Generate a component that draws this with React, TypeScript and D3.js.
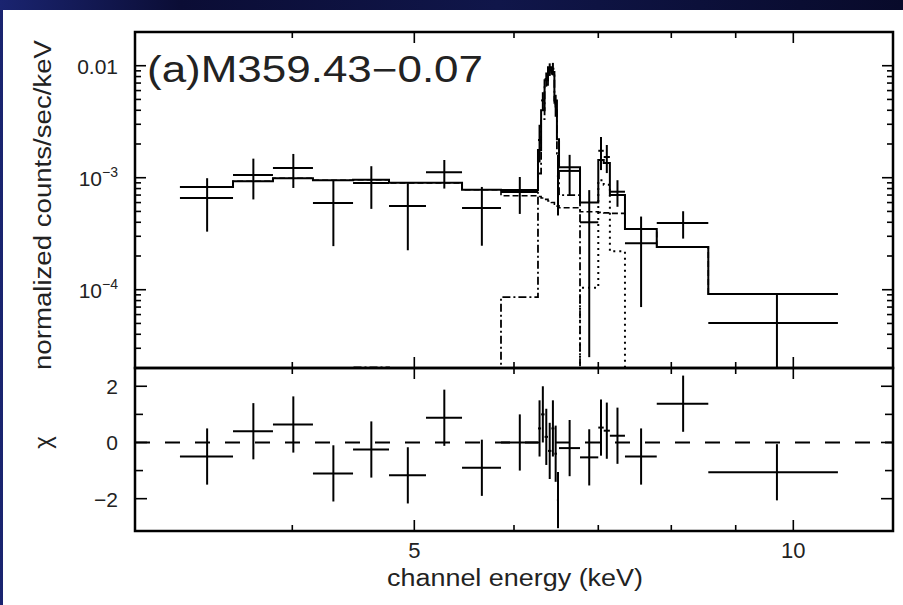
import React from 'react';
import * as d3 from 'd3';

const W = 903;
const H = 605;

// Energy bins (keV)
const binLo = [3.257, 3.589, 3.861, 4.154, 4.470, 4.774, 5.108, 5.456, 5.859, 6.269, 6.305, 6.345, 6.385, 6.425, 6.460, 6.490, 6.515, 6.770, 7.000, 7.070, 7.150, 7.350, 7.790, 8.560];
const binHi = [3.589, 3.861, 4.154, 4.470, 4.774, 5.108, 5.456, 5.859, 6.269, 6.305, 6.345, 6.385, 6.425, 6.460, 6.490, 6.515, 6.770, 7.000, 7.070, 7.150, 7.350, 7.790, 8.560, 10.850];
// Data (normalized counts/sec/keV) and 1-sigma errors
const dataVal = [6.6e-4, 1.06e-3, 1.22e-3, 5.95e-4, 8.97e-4, 5.6e-4, 1.12e-3, 5.37e-4, 7.45e-4, 2.17e-3, 4.9e-3, 7.6e-3, 9.3e-3, 9.4e-3, 4.5e-3, 1.03e-3, 1.15e-3, 4.0e-4, 1.74e-3, 1.53e-3, 7.5e-4, 2.6e-4, 3.94e-4, 5.05e-5];
const dataErr = [3.3e-4, 4.2e-4, 4.1e-4, 3.5e-4, 3.7e-4, 3.35e-4, 3.2e-4, 2.9e-4, 2.7e-4, 8.0e-4, 9.0e-4, 1.1e-3, 1.2e-3, 1.2e-3, 1.0e-3, 5.7e-4, 4.5e-4, 3.75e-4, 5.7e-4, 4.3e-4, 2.0e-4, 1.9e-4, 1.08e-4, 4.1e-5];
// Total model
const modelVal = [8.26e-4, 9.3e-4, 9.9e-4, 9.5e-4, 9.6e-4, 9.0e-4, 9.0e-4, 7.8e-4, 7.75e-4, 1.77e-3, 4.0e-3, 7.4e-3, 9.7e-3, 8.8e-3, 4.9e-3, 2.2e-3, 1.24e-3, 6.0e-4, 1.44e-3, 1.35e-3, 7.0e-4, 3.48e-4, 2.41e-4, 9.16e-5];
// Model components
const contVal = [8.26e-4, 9.3e-4, 9.9e-4, 9.5e-4, 9.6e-4, 9.0e-4, 9.0e-4, 7.8e-4, 6.9e-4, 6.8e-4, 6.6e-4, 6.4e-4, 6.2e-4, 6.0e-4, 5.8e-4, 5.6e-4, 5.4e-4, 4.96e-4, 4.9e-4, 4.85e-4, 4.8e-4, 3.48e-4, 2.41e-4, 9.16e-5];
const line64Val = [0, 0, 0, 0, 2.03e-5, 0, 0, 0, 8.6e-5, 1.09e-3, 3.34e-3, 6.76e-3, 9.08e-3, 8.2e-3, 4.32e-3, 1.64e-3, 7.0e-4, 0, 0, 0, 0, 0, 0, 0];
const line706Val = [0, 0, 0, 0, 0, 0, 0, 0, 0, 0, 0, 0, 0, 0, 0, 0, 0, 1.04e-4, 9.5e-4, 8.65e-4, 2.2e-4, 0, 0, 0];
// Residuals (chi)
const chiVal = [-0.5, 0.4, 0.64, -1.1, -0.25, -1.17, 0.88, -0.9, 0.0, 0.5, 1.0, 0.2, -0.3, 0.5, -0.4, -2.05, -0.2, -0.53, 0.53, 0.42, 0.24, -0.5, 1.38, -1.06];

// Ticks and labels
const xMajorTicks = [5, 10];
const xMinorTicks = [4, 6, 7, 8, 9];
const xTickLabels = ['5', '10'];
const yUpperLabelValues = [1e-2, 1e-3, 1e-4];
const yUpperLabelBase = ['0.01', '10', '10'];
const yUpperLabelExp = ['', '\u22123', '\u22124'];
const chiMajorTicks = [-2, 0, 2];
const chiMinorTicks = [-1, 1];
const chiTickLabels = ['\u22122', '0', '2'];

const title = '(a)M359.43\u22120.07';
const xTitle = 'channel energy (keV)';
const yTitle = 'normalized counts/sec/keV';
const chiTitle = '\u03c7';

const L = 135, R = 893, T = 32, M = 368, B = 531;
const FONT = "'Liberation Sans', Arial, Helvetica, sans-serif";
const TXT = '#222';

export default function App() {
  const x = d3.scaleLog().domain([3, 12]).range([L, R]);
  const yU = d3.scaleLog().domain([2e-5, 2e-2]).range([M, T]);
  const yL = d3.scaleLinear().domain([-3.15, 2.65]).range([B, M]);
  const floor = 1e-8;
  const yv = (v: number) => yU(Math.max(v, floor));

  const line = d3.line<[number, number]>();
  const stepPath = (vals: number[]) => {
    const pts: [number, number][] = [];
    vals.forEach((v, i) => {
      pts.push([x(binLo[i]), yv(v)]);
      pts.push([x(binHi[i]), yv(v)]);
    });
    return line(pts) || '';
  };

  const upperTicks: { y: number; len: number }[] = [];
  for (let d = -5; d <= -2; d++) {
    for (let m = 1; m <= 9; m++) {
      const v = m * Math.pow(10, d);
      if (v >= 2e-5 * 0.999 && v <= 2e-2 * 1.001) {
        upperTicks.push({ y: yU(v), len: m === 1 ? 11 : 6 });
      }
    }
  }
  const xTicks = [
    ...xMajorTicks.map((v) => ({ x: x(v), len: 11 })),
    ...xMinorTicks.map((v) => ({ x: x(v), len: 6 })),
  ];
  const chiTicks = [
    ...chiMajorTicks.map((v) => ({ y: yL(v), len: 12 })),
    ...chiMinorTicks.map((v) => ({ y: yL(v), len: 8 })),
  ];

  const sw = 2;

  return (
    <svg width={W} height={H} viewBox={`0 0 ${W} ${H}`} style={{ position: 'absolute', left: 0, top: 0, display: 'block' }}>
      <defs>
        <linearGradient id="bg" x1="0" y1="0" x2="1" y2="0">
          <stop offset="0" stopColor="#1a2470" />
          <stop offset="0.2" stopColor="#0b0d35" />
          <stop offset="0.55" stopColor="#10164a" />
          <stop offset="1" stopColor="#080a2a" />
        </linearGradient>
        <clipPath id="clipU"><rect x={L} y={T} width={R - L} height={M - T} /></clipPath>
        <clipPath id="clipL"><rect x={L} y={M} width={R - L} height={B - M} /></clipPath>
      </defs>
      <rect x={0} y={0} width={W} height={H} fill="url(#bg)" />
      <rect x={3} y={10} width={W - 3} height={H - 10} fill="#ffffff" />

      {/* Upper panel content */}
      <g clipPath="url(#clipU)" fill="none" stroke="#000">
        <path d={stepPath(contVal)} strokeWidth={1.6} strokeDasharray="6,3" />
        <path d={stepPath(line64Val)} strokeWidth={1.8} strokeDasharray="8,3,2,3" />
        <path d={stepPath(line706Val)} strokeWidth={2} strokeDasharray="2,4" />
        <path d={stepPath(modelVal)} strokeWidth={sw} />
        {dataVal.map((v, i) => {
          const c = x((binLo[i] + binHi[i]) / 2);
          return (
            <g key={i}>
              <line x1={x(binLo[i])} x2={x(binHi[i])} y1={yv(v)} y2={yv(v)} strokeWidth={sw} />
              <line x1={c} x2={c} y1={yv(v + dataErr[i])} y2={yv(v - dataErr[i])} strokeWidth={sw} />
            </g>
          );
        })}
      </g>

      {/* Lower panel content */}
      <g clipPath="url(#clipL)" fill="none" stroke="#000">
        <line x1={L} x2={R} y1={yL(0)} y2={yL(0)} strokeWidth={sw} strokeDasharray="15,15" />
        {chiVal.map((v, i) => {
          const c = x((binLo[i] + binHi[i]) / 2);
          return (
            <g key={i}>
              <line x1={x(binLo[i])} x2={x(binHi[i])} y1={yL(v)} y2={yL(v)} strokeWidth={sw} />
              <line x1={c} x2={c} y1={yL(v + 1)} y2={yL(v - 1)} strokeWidth={sw} />
            </g>
          );
        })}
      </g>

      {/* Ticks */}
      <g stroke="#000" strokeWidth={1.6}>
        {upperTicks.map((t, i) => (
          <g key={i}>
            <line x1={L} x2={L + t.len} y1={t.y} y2={t.y} />
            <line x1={R} x2={R - t.len} y1={t.y} y2={t.y} />
          </g>
        ))}
        {xTicks.map((t, i) => (
          <g key={i}>
            <line x1={t.x} x2={t.x} y1={T} y2={T + t.len} />
            <line x1={t.x} x2={t.x} y1={M} y2={M - t.len} />
            <line x1={t.x} x2={t.x} y1={M} y2={M + t.len} />
            <line x1={t.x} x2={t.x} y1={B} y2={B - t.len} />
          </g>
        ))}
        {chiTicks.map((t, i) => (
          <g key={i}>
            <line x1={L} x2={L + t.len} y1={t.y} y2={t.y} />
            <line x1={R} x2={R - t.len} y1={t.y} y2={t.y} />
          </g>
        ))}
      </g>

      {/* Frames */}
      <g fill="none" stroke="#000" strokeWidth={2.5}>
        <rect x={L} y={T} width={R - L} height={M - T} />
        <rect x={L} y={M} width={R - L} height={B - M} />
      </g>

      {/* Texts */}
      <g fontFamily={FONT} fill={TXT}>
        <text x={147} y={82} fontSize={36} textLength={336} lengthAdjust="spacingAndGlyphs">{title}</text>
        {yUpperLabelValues.map((v, i) => (
          <text key={i} x={118} y={yU(v) + 8} fontSize={21} textAnchor="end">
            {yUpperLabelBase[i]}
            {yUpperLabelExp[i] && (
              <tspan fontSize={14} dy={-9}>{yUpperLabelExp[i]}</tspan>
            )}
          </text>
        ))}
        {chiMajorTicks.map((v, i) => (
          <text key={i} x={118} y={yL(v) + 8} fontSize={21} textAnchor="end">{chiTickLabels[i]}</text>
        ))}
        {xMajorTicks.map((v, i) => (
          <text key={i} x={x(v)} y={558} fontSize={22} textAnchor="middle">{xTickLabels[i]}</text>
        ))}
        <text x={515} y={586} fontSize={23} textAnchor="middle" textLength={256} lengthAdjust="spacingAndGlyphs">{xTitle}</text>
        <text transform="translate(51,205) rotate(-90)" fontSize={23} textAnchor="middle" textLength={330} lengthAdjust="spacingAndGlyphs">{yTitle}</text>
        <text transform={`translate(51,${yL(0)}) rotate(-90)`} fontSize={24} textAnchor="middle">{chiTitle}</text>
      </g>
    </svg>
  );
}
